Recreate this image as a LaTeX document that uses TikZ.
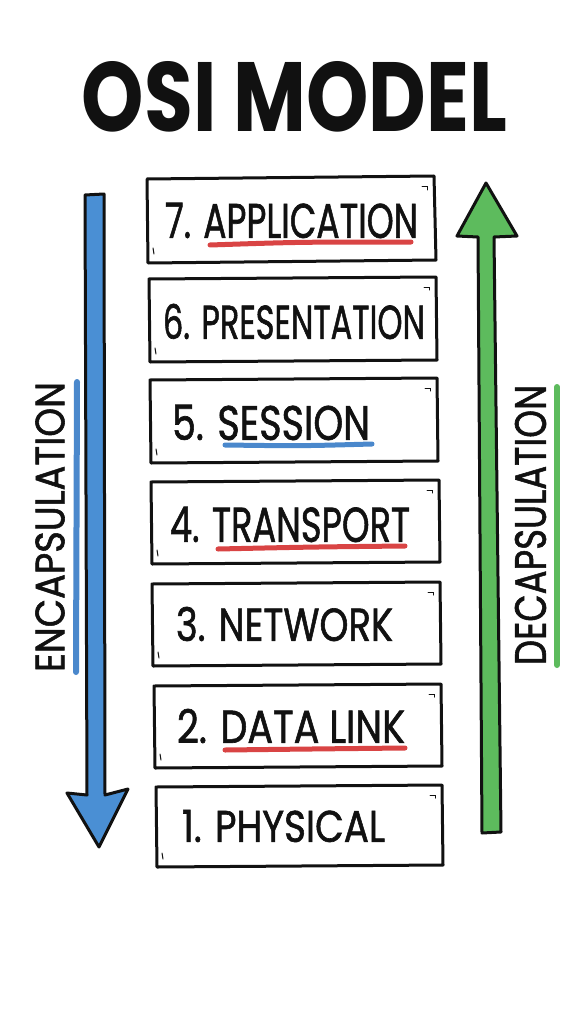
\documentclass[tikz,border=0pt]{standalone}
\usepackage{fontspec}
\usepackage{graphicx}
\setmainfont{Poppins}
\newfontfamily\markerfont{Poppins}[FakeBold=1.4]
\definecolor{ink}{HTML}{111111}
\definecolor{arrblue}{HTML}{4A8FD4}
\definecolor{linblue}{HTML}{4A88CC}
\definecolor{arrgreen}{HTML}{5DBB5D}
\definecolor{linred}{HTML}{D94444}
\tikzset{
  layerbox/.style={draw=ink, line width=3pt, line join=round, line cap=round, fill=white},
  tick/.style={draw=ink, line width=1pt, line cap=round},
  lbl/.style={inner sep=0pt, text=ink, font=\markerfont},
  uline/.style={line width=5pt, line cap=round},
  bar/.style={line width=6pt, line cap=round},
  bigarrow/.style={draw=ink, line width=3pt, line join=round}
}
\newcommand{\fitlbl}[3]{\resizebox{#1pt}{#2pt}{#3}}
\begin{document}
\begin{tikzpicture}[x=1pt,y=-1pt]
\useasboundingbox (0,0) rectangle (572,1024);
\fill[white] (0,0) rectangle (572,1024);

% title
\node[inner sep=0pt, text=ink] (title) at (294.5,97) {\fitlbl{425}{70}{\bfseries OSI MODEL}};

% arrows
\path[bigarrow, fill=arrblue] (85,195) -- (104,194) -- (105,795) -- (128,789) -- (99,847) -- (67,793) -- (87,795) -- cycle;
\path[bigarrow, fill=arrgreen] (478,237) -- (457,236) -- (486,183) -- (517,236) -- (494,237) -- (501,832) -- (482,833) -- cycle;

% side labels
\node[lbl, rotate=90] (enc) at (50,527) {\fitlbl{290}{29}{ENCAPSULATION}};
\draw[bar, linblue] (77,382) -- (76,672);
\node[lbl, rotate=90] (dec) at (530.5,525) {\fitlbl{280}{31}{DECAPSULATION}};
\draw[bar, arrgreen] (557,387) -- (557,665);

% layer boxes
\path[layerbox] (147,179) -- (434,176) -- (436,260) -- (148,263) -- cycle;
\path[layerbox] (149,279) -- (436,277) -- (437,360) -- (150,362) -- cycle;
\path[layerbox] (150,380) -- (437,378) -- (438,461) -- (151,463) -- cycle;
\path[layerbox] (151,482) -- (439,480) -- (440,562) -- (152,564) -- cycle;
\path[layerbox] (152,584) -- (440,582) -- (441,664) -- (153,666) -- cycle;
\path[layerbox] (154,686) -- (441,684) -- (442,766) -- (155,768) -- cycle;
\path[layerbox] (156,787) -- (442,785) -- (443,865) -- (157,867) -- cycle;

% small corner ticks
\foreach \l/\t/\r/\b in {147/179/434/260,149/279/436/360,150/380/437/461,151/482/439/562,152/584/440/664,154/686/441/766,156/787/442/865}{
  \draw[tick] (\r-12,\t+8) -- (\r-7,\t+8) -- (\r-7,\t+11);
  \draw[tick] (\l+6,\b-12) -- (\l+7,\b-6);
}

% layer labels
\node[lbl] (l7) at (291.5,220.5) {\fitlbl{253}{35}{7. APPLICATION}};
\node[lbl] (l6) at (294,321.5) {\fitlbl{262}{35}{6. PRESENTATION}};
\node[lbl] (l5) at (271,422.5) {\fitlbl{198}{35}{5. SESSION}};
\node[lbl] (l4) at (290,524.5) {\fitlbl{240}{35}{4. TRANSPORT}};
\node[lbl] (l3) at (284.5,624) {\fitlbl{217}{34}{3. NETWORK}};
\node[lbl] (l2) at (291,726) {\fitlbl{228}{34}{2. DATA LINK}};
\node[lbl] (l1) at (283.5,826) {\fitlbl{203}{32}{1. PHYSICAL}};

% underlines
\draw[uline, linred] (210,245) .. controls (300,242) .. (411,242);
\draw[uline, linblue] (225,445) .. controls (300,446) .. (372,444);
\draw[uline, linred] (218,549) .. controls (310,547) .. (405,546);
\draw[uline, linred] (225,750) .. controls (310,749) .. (405,748);
\end{tikzpicture}
\end{document}
